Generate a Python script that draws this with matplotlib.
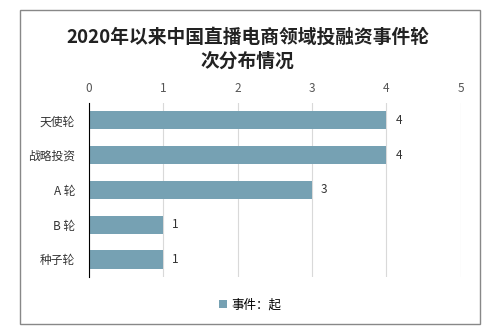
import matplotlib.pyplot as plt
from matplotlib.patches import Rectangle

plt.rcParams['font.family'] = ['Noto Sans CJK SC', 'DejaVu Sans']

categories = ["天使轮", "战略投资", "A 轮", "B 轮", "种子轮"]
events = [4, 4, 3, 1, 1]
xticks = [0, 1, 2, 3, 4, 5]
bar_color = "#76A1B3"

fig = plt.figure(figsize=(4.95, 3.34), dpi=100)
ax = fig.add_axes([0.18, 0.171, 0.751, 0.521])

ypos = list(range(len(categories)))
ax.barh(ypos, events, height=0.52, color=bar_color, label="事件：起", zorder=2)
for y, v in zip(ypos, events):
    ax.text(v + 0.12, y, str(v), va="center", ha="left", fontsize=8.5, color="#333333")

ax.set_ylim(len(categories) - 0.5, -0.5)
ax.set_yticks(ypos)
ax.set_yticklabels(categories, fontsize=8.5, color="#333333")
ax.set_xlim(0, 5)
ax.set_xticks(xticks)
ax.xaxis.tick_top()
ax.tick_params(axis="x", length=0, labelsize=8.5, labelcolor="#555555", pad=6)
ax.tick_params(axis="y", length=0, pad=10)
ax.grid(axis="x", color="#D9D9D9", linewidth=0.8, zorder=0)
for s in ["top", "right", "bottom"]:
    ax.spines[s].set_visible(False)
ax.spines["left"].set_color("#000000")
ax.spines["left"].set_linewidth(0.8)

fig.text(0.5, 0.888, "2020年以来中国直播电商领域投融资事件轮", ha="center", va="center",
         fontsize=13.5, fontweight="bold", color="#222222")
fig.text(0.5, 0.818, "次分布情况", ha="center", va="center",
         fontsize=13.5, fontweight="bold", color="#222222")

fig.legend(loc="center", bbox_to_anchor=(0.505, 0.087), frameon=False, fontsize=9,
           handlelength=0.7, handleheight=0.7, handletextpad=0.3)

fig.patches.append(Rectangle((20 / 495, 10 / 334), 460 / 495, 314 / 334,
                             transform=fig.transFigure, fill=False,
                             edgecolor="#888888", linewidth=1))

fig.savefig("out.png", dpi=100)
